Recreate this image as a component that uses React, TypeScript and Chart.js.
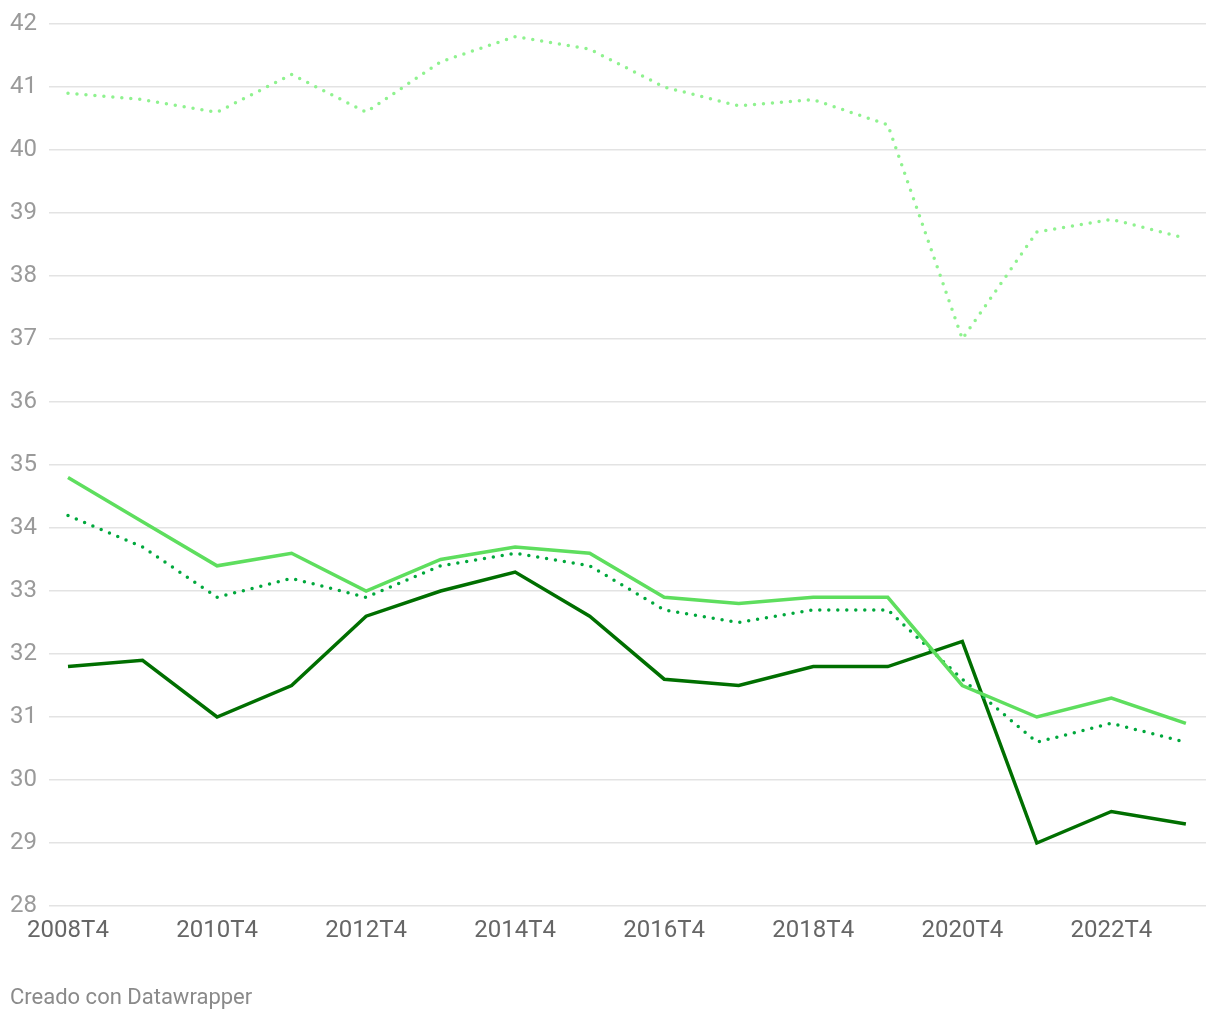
import React, { useEffect, useRef } from "react";
import { Chart, registerables } from "chart.js";

Chart.register(...registerables);

const categories = [
  "2008T4", "2009T4", "2010T4", "2011T4", "2012T4", "2013T4", "2014T4", "2015T4",
  "2016T4", "2017T4", "2018T4", "2019T4", "2020T4", "2021T4", "2022T4", "2023T4",
];

const seriesTopDotted = [40.9, 40.8, 40.6, 41.2, 40.6, 41.4, 41.8, 41.6, 41.0, 40.7, 40.8, 40.4, 37.0, 38.7, 38.9, 38.6];
const seriesLightSolid = [34.8, 34.1, 33.4, 33.6, 33.0, 33.5, 33.7, 33.6, 32.9, 32.8, 32.9, 32.9, 31.5, 31.0, 31.3, 30.9];
const seriesMidDotted = [34.2, 33.7, 32.9, 33.2, 32.9, 33.4, 33.6, 33.4, 32.7, 32.5, 32.7, 32.7, 31.6, 30.6, 30.9, 30.6];
const seriesDarkSolid = [31.8, 31.9, 31.0, 31.5, 32.6, 33.0, 33.3, 32.6, 31.6, 31.5, 31.8, 31.8, 32.2, 29.0, 29.5, 29.3];

const yTicks = [28, 29, 30, 31, 32, 33, 34, 35, 36, 37, 38, 39, 40, 41, 42];
const xTickIndices = [0, 2, 4, 6, 8, 10, 12, 14];

const toPoints = (vals: number[]) => vals.map((v, i) => ({ x: i, y: v }));

export default function App() {
  const ref = useRef<HTMLCanvasElement | null>(null);

  useEffect(() => {
    if (!ref.current) return;
    const font = "Roboto";
    const dotted = { borderDash: [0, 9], borderCapStyle: "round" as const, borderWidth: 3.5 };
    const chart = new Chart(ref.current, {
      type: "line",
      data: {
        datasets: [
          { data: toPoints(seriesTopDotted), borderColor: "#8ff28f", ...dotted },
          { data: toPoints(seriesLightSolid), borderColor: "#5ede5e", borderWidth: 3.5 },
          { data: toPoints(seriesMidDotted), borderColor: "#00a83c", ...dotted },
          { data: toPoints(seriesDarkSolid), borderColor: "#006f00", borderWidth: 3.5 },
        ],
      },
      options: {
        animation: false,
        responsive: false,
        maintainAspectRatio: false,
        elements: { point: { radius: 0, hoverRadius: 0 }, line: { tension: 0 } },
        layout: { padding: { top: 24, right: 14, bottom: 54, left: 0 } },
        plugins: { legend: { display: false }, tooltip: { enabled: false } },
        scales: {
          x: {
            type: "linear",
            min: -0.255,
            max: 15.27,
            border: { display: false },
            grid: { display: false, drawTicks: false },
            afterBuildTicks: (scale: any) => {
              scale.ticks = xTickIndices.map((v) => ({ value: v }));
            },
            afterFit: (scale: any) => {
              scale.height = 60;
              scale.paddingLeft = 0;
              scale.paddingRight = 0;
            },
            ticks: {
              autoSkip: false,
              maxRotation: 0,
              padding: 11,
              color: "#666666",
              font: { family: font, size: 24 },
              callback: (v: any) => categories[Number(v)] ?? "",
            },
          },
          y: {
            min: 28,
            max: 42,
            border: { display: false },
            grid: { color: "#e3e3e3", lineWidth: 1.5, drawTicks: false },
            afterBuildTicks: (scale: any) => {
              scale.ticks = yTicks.map((v) => ({ value: v }));
            },
            afterFit: (scale: any) => {
              scale.width = 49;
              scale.paddingTop = 0;
              scale.paddingBottom = 0;
            },
            ticks: {
              padding: 12,
              color: "#9a9a9a",
              font: { family: font, size: 24 },
              callback: (v: any) => String(v),
            },
          },
        },
      },
    });
    return () => chart.destroy();
  }, []);

  return (
    <div style={{ position: "fixed", left: 0, top: 0, width: 1220, height: 1020, background: "#fff" }}>
      <canvas ref={ref} width={1220} height={1020} style={{ display: "block" }} />
      <div
        style={{
          position: "absolute",
          left: 10,
          top: 985,
          fontFamily: "Roboto",
          fontSize: 22,
          color: "#8a8a8a",
          lineHeight: "24px",
          whiteSpace: "nowrap",
        }}
      >
        Creado con Datawrapper
      </div>
    </div>
  );
}
